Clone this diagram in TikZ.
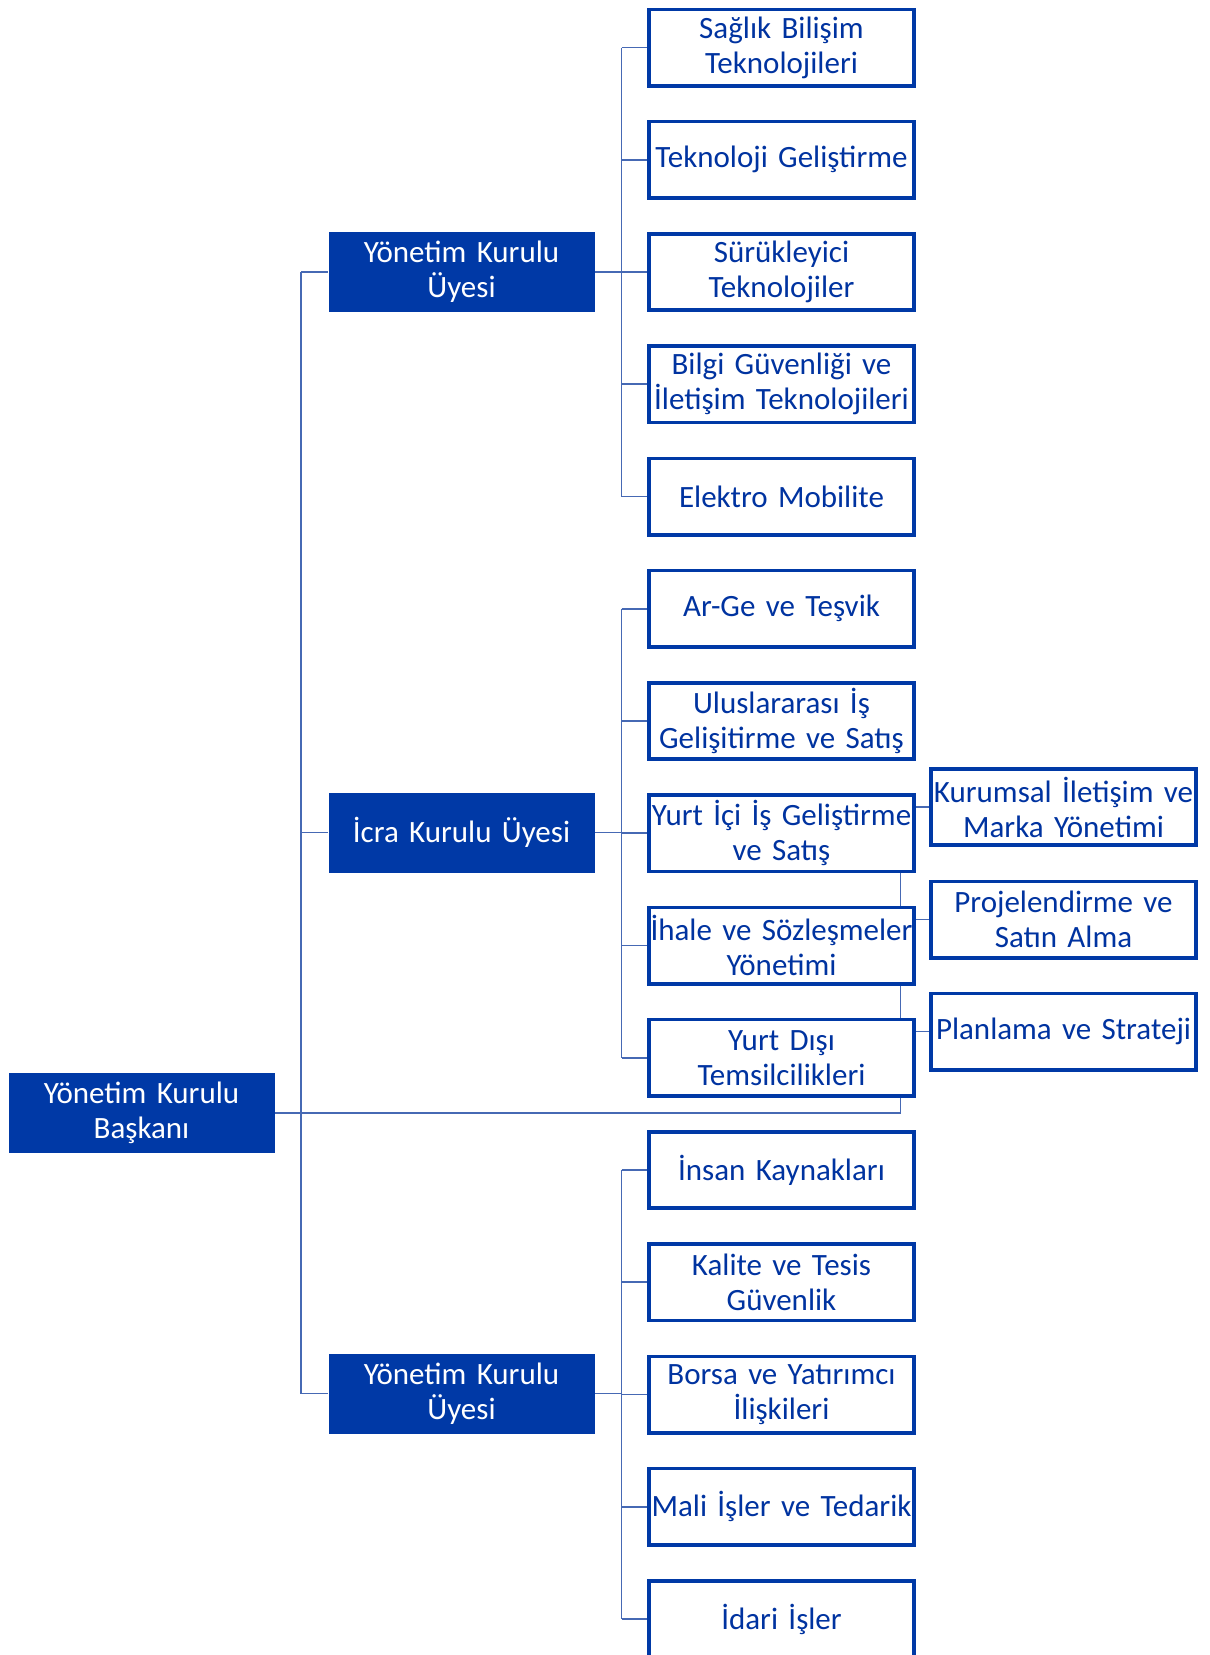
\documentclass[tikz,border=0pt]{standalone}
\usepackage{fontspec}
\setmainfont{Carlito}
\usetikzlibrary{calc}
\definecolor{boxblue}{RGB}{0,57,166}
\definecolor{txtblue}{RGB}{0,51,160}
\definecolor{lineblue}{RGB}{70,105,180}
\pgfdeclarelayer{background}
\pgfsetlayers{background,main}
\begin{document}
\begin{tikzpicture}[x=1pt,y=-1pt,
  filledbox/.style={rectangle,fill=boxblue,draw=none,text=white,
    minimum width=266pt,minimum height=80pt,inner sep=0pt,
    text width=266pt,align=center,font=\fontsize{31}{35}\selectfont},
  outbox/.style={rectangle,fill=white,draw=boxblue,line width=3.6pt,text=txtblue,
    minimum width=265pt,minimum height=76.4pt,inner sep=0pt,
    text width=265pt,align=center,font=\fontsize{31}{35}\selectfont},
  conn/.style={draw=lineblue,line width=1.8pt}]
\useasboundingbox (0,0) rectangle (1210,1655);

% root
\node[filledbox] (root) at (141.5,1113) {Yönetim Kurulu\\Başkanı};

% level 2
\node[filledbox] (ma) at (461.5,272) {Yönetim Kurulu\\Üyesi};
\node[filledbox] (mb) at (461.5,832.5) {İcra Kurulu Üyesi};
\node[filledbox] (mc) at (461.5,1393.5) {Yönetim Kurulu\\Üyesi};

% level 3, group A
\node[outbox] (a1) at (781.5,47.5) {Sağlık Bilişim\\Teknolojileri};
\node[outbox] (a2) at (781.5,159.75) {Teknoloji Geliştirme};
\node[outbox] (a3) at (781.5,272) {Sürükleyici\\Teknolojiler};
\node[outbox] (a4) at (781.5,384.25) {Bilgi Güvenliği ve\\İletişim Teknolojileri};
\node[outbox] (a5) at (781.5,496.5) {Elektro Mobilite};

% level 3, group B
\node[outbox] (b1) at (781.5,608.75) {Ar-Ge ve Teşvik};
\node[outbox] (b2) at (781.5,721) {Uluslararası İş\\Gelişitirme ve Satış};
\node[outbox] (b3) at (781.5,833.25) {Yurt İçi İş Geliştirme\\ve Satış};
\node[outbox] (b4) at (781.5,945.5) {İhale ve Sözleşmeler\\Yönetimi};
\node[outbox] (b5) at (781.5,1057.75) {Yurt Dışı\\Temsilcilikleri};

% level 3, group C
\node[outbox] (c1) at (781.5,1170) {İnsan Kaynakları};
\node[outbox] (c2) at (781.5,1282.25) {Kalite ve Tesis\\Güvenlik};
\node[outbox] (c3) at (781.5,1394.5) {Borsa ve Yatırımcı\\İlişkileri};
\node[outbox] (c4) at (781.5,1506.75) {Mali İşler ve Tedarik};
\node[outbox] (c5) at (781.5,1619) {İdari İşler};

% assistants
\node[outbox] (k1) at (1063.5,807) {Kurumsal İletişim ve\\Marka Yönetimi};
\node[outbox] (k2) at (1063.5,919.5) {Projelendirme ve\\Satın Alma};
\node[outbox] (k3) at (1063.5,1031.5) {Planlama ve Strateji};

% trunk positions
\coordinate (tA) at (301,0);
\coordinate (tB) at (621.5,0);
\coordinate (tC) at (900.5,0);

\begin{pgfonlayer}{background}
  % root to level 2
  \draw[conn] (root.east) -- (root.east -| tC);
  \draw[conn] (ma.west -| tA) -- (mc.west -| tA);
  \foreach \n in {ma,mb,mc} \draw[conn] (\n.west -| tA) -- (\n.west);
  % assistants
  \draw[conn] (root.east -| tC) -- (k1.west -| tC);
  \foreach \n in {k1,k2,k3} \draw[conn] (\n.west -| tC) -- (\n.west);
  % level 2 to level 3
  \draw[conn] (ma.east) -- (ma.east -| tB);
  \draw[conn] (a1.west -| tB) -- (a5.west -| tB);
  \foreach \n in {a1,a2,a3,a4,a5} \draw[conn] (\n.west -| tB) -- (\n.west);
  \draw[conn] (mb.east) -- (mb.east -| tB);
  \draw[conn] (b1.west -| tB) -- (b5.west -| tB);
  \foreach \n in {b1,b2,b3,b4,b5} \draw[conn] (\n.west -| tB) -- (\n.west);
  \draw[conn] (mc.east) -- (mc.east -| tB);
  \draw[conn] (c1.west -| tB) -- (c5.west -| tB);
  \foreach \n in {c1,c2,c3,c4,c5} \draw[conn] (\n.west -| tB) -- (\n.west);
\end{pgfonlayer}
\end{tikzpicture}
\end{document}
